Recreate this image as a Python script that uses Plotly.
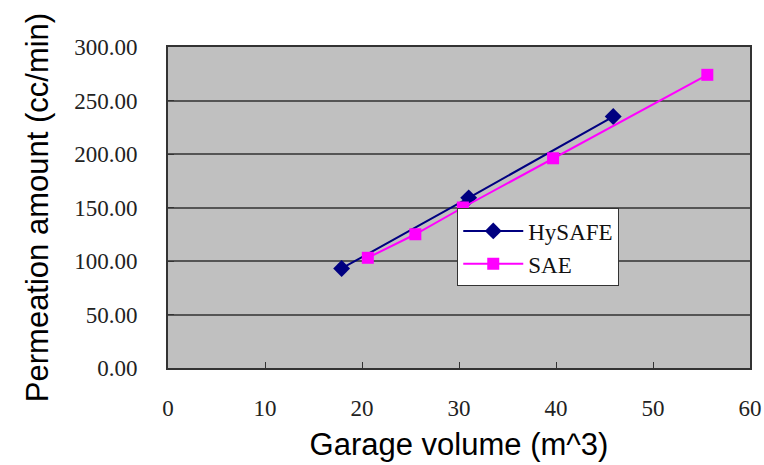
import plotly.graph_objects as go

hysafe_x = [17.9, 31.0, 45.9]
hysafe_y = [93.0, 159.0, 235.0]
sae_x = [20.6, 25.5, 30.4, 39.7, 55.6]
sae_y = [103.0, 125.0, 150.0, 196.0, 274.0]
y_ticks = [0, 50, 100, 150, 200, 250, 300]
y_tick_labels = ["0.00", "50.00", "100.00", "150.00", "200.00", "250.00", "300.00"]
x_ticks = [0, 10, 20, 30, 40, 50, 60]

serif = "Liberation Serif, DejaVu Serif, serif"
sans = "Liberation Sans, Arial, sans-serif"

fig = go.Figure()
fig.add_trace(go.Scatter(
    x=hysafe_x, y=hysafe_y, mode="lines+markers", name="HySAFE",
    legendgroup="a",
    line=dict(color="#000080", width=2),
    marker=dict(symbol="diamond", size=13, color="#000080"),
))
fig.add_trace(go.Scatter(
    x=sae_x, y=sae_y, mode="lines+markers", name="SAE",
    legendgroup="b",
    line=dict(color="#FF00FF", width=2),
    marker=dict(symbol="square", size=12, color="#FF00FF"),
))

fig.update_layout(
    width=764, height=465,
    margin=dict(l=168, r=14, t=47, b=97, autoexpand=False),
    paper_bgcolor="white",
    plot_bgcolor="#C0C0C0",
    showlegend=True,
    legend=dict(
        x=0.497, y=0.497, xanchor="left", yanchor="top",
        bgcolor="white", bordercolor="#333333", borderwidth=1,
        font=dict(family=serif, size=23, color="#111111"),
        itemwidth=60, traceorder="grouped", tracegroupgap=0,
    ),
    xaxis=dict(
        range=[0, 60], tickvals=x_ticks, ticktext=[str(v) for v in x_ticks],
        showgrid=False, zeroline=False,
        showline=True, linecolor="#333333", linewidth=2, mirror=True,
        ticks="inside", ticklen=6, tickcolor="#333333",
        ticklabelstandoff=18, ticklabeloverflow="allow",
        tickfont=dict(family=serif, size=23, color="#222222"),
        title=dict(text="Garage volume (m^3)", font=dict(family=sans, size=31, color="black"), standoff=14),
    ),
    yaxis=dict(
        range=[0, 300], tickvals=y_ticks, ticktext=y_tick_labels,
        showgrid=True, gridcolor="#555555", gridwidth=1.5,
        zeroline=False,
        showline=True, linecolor="#333333", linewidth=2, mirror=True,
        ticks="inside", ticklen=6, tickcolor="#333333",
        ticklabelstandoff=24, ticklabeloverflow="allow",
        tickfont=dict(family=serif, size=23, color="#222222"),
        title=dict(text="Permeation amount (cc/min)", font=dict(family=sans, size=31, color="black"), standoff=16),
    ),
)

fig.write_html(
    "out.html",
    config={"displayModeBar": False},
    post_script="document.body.style.margin='0';document.body.style.overflow='hidden';",
)
